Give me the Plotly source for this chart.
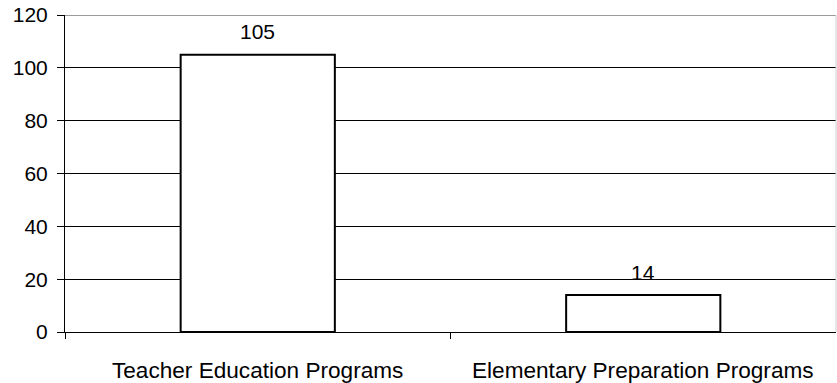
import plotly.graph_objects as go

categories = ["Teacher Education Programs", "Elementary Preparation Programs"]
values = [105, 14]
y_ticks = [0, 20, 40, 60, 80, 100, 120]

FONT = "Liberation Sans, Arial, sans-serif"
FS = 21
FS_CAT = 22.6

xpos = list(range(len(categories)))

fig = go.Figure()
fig.add_trace(go.Bar(
    x=xpos, y=values, width=0.4,
    marker=dict(color="white", line=dict(color="black", width=2)),
    hoverinfo="skip",
))

annotations = []
for xi, v in zip(xpos, values):
    annotations.append(dict(x=xi, y=v, xref="x", yref="y", text=str(v),
                            showarrow=False, yanchor="middle", yshift=23,
                            font=dict(family=FONT, size=FS, color="black")))
for xi, c in zip(xpos, categories):
    annotations.append(dict(x=xi, y=0, xref="x", yref="paper", text=c,
                            showarrow=False, yanchor="middle", yshift=-38,
                            font=dict(family=FONT, size=FS_CAT, color="black")))

fig.update_layout(
    width=837, height=383,
    margin=dict(l=65, r=1, t=15, b=51),
    paper_bgcolor="white", plot_bgcolor="white",
    font=dict(family=FONT, size=FS, color="black"),
    showlegend=False,
    annotations=annotations,
    xaxis=dict(range=[-0.5, len(categories) - 0.5], tickmode="array",
               tickvals=[-0.5, 0.5], showticklabels=False,
               ticks="outside", ticklen=6, tickcolor="black", tickwidth=1,
               showline=True, linecolor="black", linewidth=1,
               showgrid=False, zeroline=False, fixedrange=True),
    yaxis=dict(range=[0, 120], tickmode="array", tickvals=y_ticks,
               ticks="outside", ticklen=7, tickcolor="black", tickwidth=1,
               showline=True, linecolor="black", linewidth=1,
               showgrid=True, gridcolor="black", gridwidth=1,
               zeroline=False, ticklabelstandoff=5,
               tickfont=dict(family=FONT, size=FS, color="black"),
               fixedrange=True),
    shapes=[
        dict(type="line", xref="paper", yref="y", x0=0, x1=1, y0=120, y1=120,
             line=dict(color="#9a9a9a", width=2)),
        dict(type="line", xref="paper", yref="paper", x0=1, x1=1, y0=0, y1=1,
             line=dict(color="#cfcfcf", width=1)),
    ],
)

fig.write_html("out.html")
